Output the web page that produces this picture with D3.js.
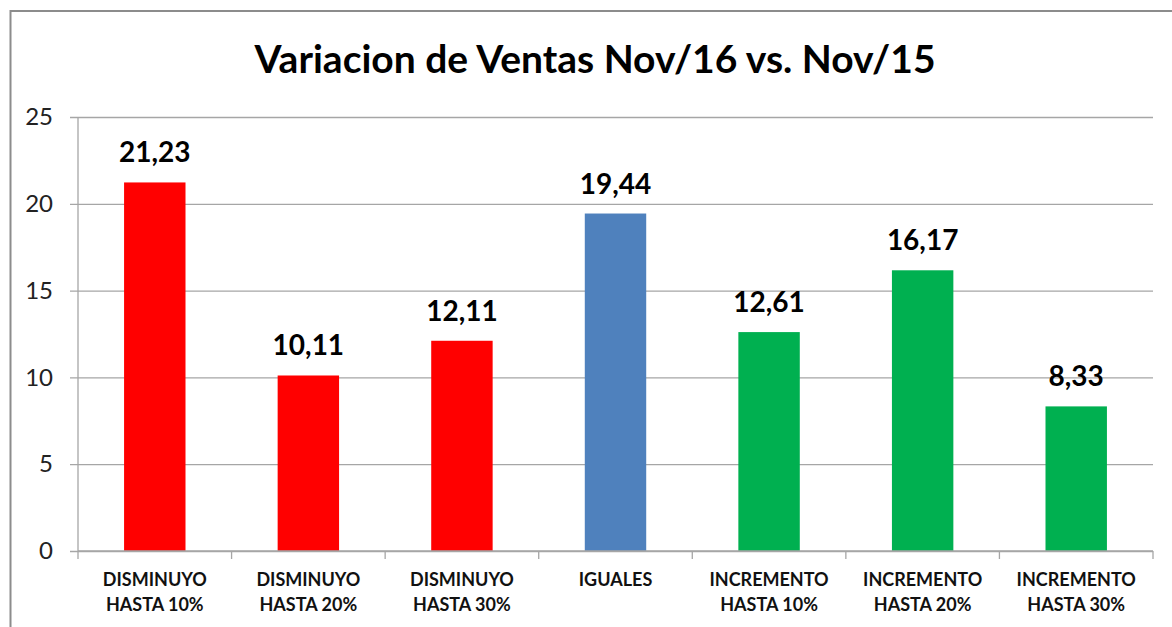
<!DOCTYPE html>
<html>
<head>
<meta charset="utf-8">
<script src="https://cdn.jsdelivr.net/npm/d3@7"></script>
<style>
  html, body { margin: 0; padding: 0; background: #fff; }
  svg { display: block; font-family: Lato, 'Open Sans', sans-serif; }
</style>
</head>
<body>
<div id="chart"></div>
<script>
const title = 'Variacion de Ventas Nov/16 vs. Nov/15'
const categories = [
  ['DISMINUYO', 'HASTA 10%'],
  ['DISMINUYO', 'HASTA 20%'],
  ['DISMINUYO', 'HASTA 30%'],
  ['IGUALES'],
  ['INCREMENTO', 'HASTA 10%'],
  ['INCREMENTO', 'HASTA 20%'],
  ['INCREMENTO', 'HASTA 30%']
]
const values = [21.23, 10.11, 12.11, 19.44, 12.61, 16.17, 8.33]
const barColors = ['#FF0000', '#FF0000', '#FF0000', '#4F81BD', '#00B050', '#00B050', '#00B050']
const yTicks = [0, 5, 10, 15, 20, 25]

const width = 1172
const height = 627
const margin = { top: 117, right: 19, bottom: 76, left: 78 }
const innerW = width - margin.left - margin.right
const innerH = height - margin.top - margin.bottom

const svg = d3.select('#chart').append('svg')
  .attr('width', width)
  .attr('height', height)

// chart frame (runs off the right and bottom edges)
svg.append('rect')
  .attr('x', 10.5).attr('y', 11)
  .attr('width', width + 20).attr('height', height + 20)
  .attr('fill', '#fff')
  .attr('stroke', '#8c8c8c')
  .attr('stroke-width', 2)

svg.append('text')
  .attr('x', 595).attr('y', 73)
  .attr('text-anchor', 'middle')
  .attr('font-size', 39)
  .attr('font-weight', 'bold')
  .attr('fill', '#000')
  .text(title)

const x = d3.scaleBand()
  .domain(d3.range(values.length))
  .range([0, innerW])
  .paddingInner(0.6)
  .paddingOuter(0.3)

const y = d3.scaleLinear()
  .domain([0, 25])
  .range([innerH, 0])

const g = svg.append('g')
  .attr('transform', `translate(${margin.left},${margin.top})`)

// gridlines + y ticks
g.append('g')
  .call(d3.axisLeft(y).tickValues(yTicks).tickSize(-innerW).tickPadding(25).tickFormat(d3.format('d')))
  .call(ax => ax.select('.domain').remove())
  .call(ax => ax.selectAll('line').attr('stroke', '#a6a6a6').attr('stroke-width', 1.3).attr('x1', -8))
  .call(ax => ax.selectAll('text')
    .attr('font-size', 24)
    .attr('fill', '#222')
    .attr('font-family', 'Lato, sans-serif'))

// y axis line
g.append('line')
  .attr('x1', 0).attr('x2', 0)
  .attr('y1', 0).attr('y2', innerH)
  .attr('stroke', '#a6a6a6').attr('stroke-width', 1.3)

// bars
g.selectAll('.bar')
  .data(values)
  .join('rect')
  .attr('class', 'bar')
  .attr('x', (d, i) => x(i))
  .attr('y', d => y(d))
  .attr('width', x.bandwidth())
  .attr('height', d => innerH - y(d))
  .attr('fill', (d, i) => barColors[i])

// value labels
const fmt = d => d.toFixed(2).replace('.', ',')
g.selectAll('.val')
  .data(values)
  .join('text')
  .attr('class', 'val')
  .attr('x', (d, i) => x(i) + x.bandwidth() / 2)
  .attr('y', d => y(d) - 20)
  .attr('text-anchor', 'middle')
  .attr('font-size', 28)
  .attr('font-weight', 'bold')
  .attr('fill', '#000')
  .text(fmt)

// x axis
const step = x.step()
const boundaries = d3.range(values.length + 1).map(i => i * step)
g.append('line')
  .attr('x1', 0).attr('x2', innerW)
  .attr('y1', innerH).attr('y2', innerH)
  .attr('stroke', '#a6a6a6').attr('stroke-width', 1.3)
g.selectAll('.xtick')
  .data(boundaries)
  .join('line')
  .attr('class', 'xtick')
  .attr('x1', d => d).attr('x2', d => d)
  .attr('y1', innerH).attr('y2', innerH + 8)
  .attr('stroke', '#a6a6a6').attr('stroke-width', 1.3)

const catLabels = g.selectAll('.cat')
  .data(categories)
  .join('text')
  .attr('class', 'cat')
  .attr('x', (d, i) => x(i) + x.bandwidth() / 2)
  .attr('y', innerH + 35)
  .attr('text-anchor', 'middle')
  .attr('font-size', 18)
  .attr('font-weight', 'bold')
  .attr('fill', '#111')
catLabels.selectAll('tspan')
  .data(d => d)
  .join('tspan')
  .attr('x', function () { return d3.select(this.parentNode).attr('x') })
  .attr('dy', (d, i) => i === 0 ? 0 : 25)
  .text(d => d)
</script>
</body>
</html>
